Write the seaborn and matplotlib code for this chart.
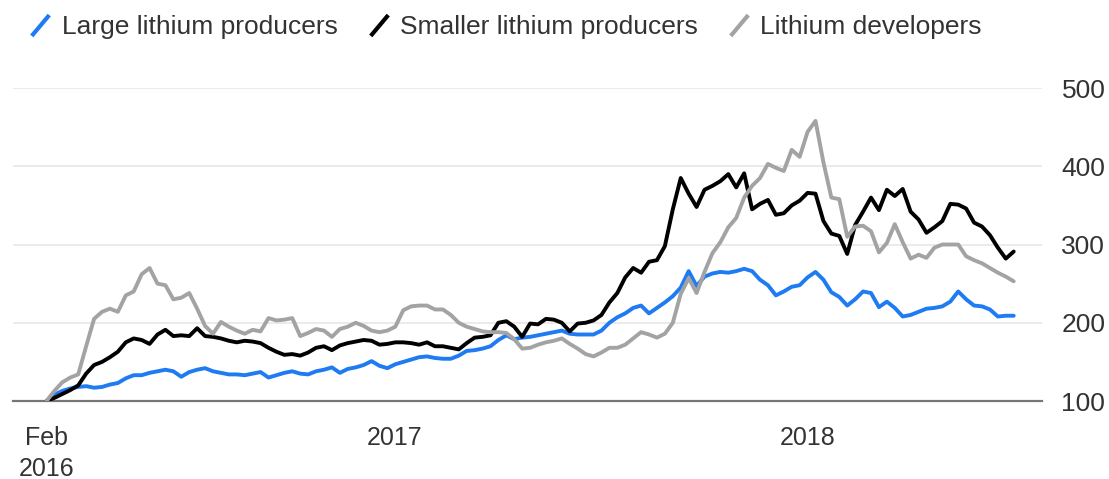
import pandas as pd
import matplotlib.pyplot as plt
from matplotlib.lines import Line2D
from matplotlib.path import Path
import seaborn as sns

# weekly index levels (rebased to 100 at start)
start_date = '2016-02-29'

large = [100, 108, 113, 116, 118, 119, 117, 118, 121, 123,
         129, 133, 133, 136, 138, 140, 138, 131, 137, 140,
         142, 138, 136, 134, 134, 133, 135, 137, 130, 133,
         136, 138, 135, 134, 138, 140, 143, 136, 141, 143,
         146, 151, 145, 142, 147, 150, 153, 156, 157, 155,
         154, 154, 158, 164, 165, 167, 170, 178, 184, 179,
         181, 182, 184, 186, 188, 190, 186, 185, 185, 185,
         190, 200, 207, 212, 219, 222, 212, 219, 226, 234,
         245, 266, 247, 259, 263, 265, 264, 266, 269, 266,
         255, 248, 235, 240, 246, 248, 258, 265, 255, 239,
         233, 222, 230, 240, 238, 220, 227, 219, 208, 210,
         214, 218, 219, 221, 227, 240, 230, 222, 221, 217,
         208, 209, 209]

smaller = [100, 104, 109, 114, 120, 135, 146, 150, 156, 163,
           175, 180, 178, 173, 185, 191, 183, 184, 183, 193,
           183, 182, 180, 177, 175, 177, 176, 174, 168, 163,
           159, 160, 158, 162, 168, 170, 165, 171, 174, 176,
           178, 177, 172, 173, 175, 175, 174, 172, 175, 170,
           170, 168, 166, 174, 181, 182, 184, 200, 202, 195,
           182, 199, 198, 205, 204, 200, 189, 199, 200, 203,
           210, 226, 238, 258, 270, 264, 278, 280, 298, 345,
           385, 365, 348, 370, 375, 381, 390, 373, 391, 345,
           352, 357, 338, 340, 350, 356, 366, 365, 330, 314,
           311, 288, 325, 342, 360, 344, 370, 362, 371, 342,
           332, 315, 322, 330, 352, 351, 346, 328, 323, 312,
           296, 282, 291]

developers = [100, 113, 124, 130, 134, 170, 205, 214, 218, 214,
              235, 240, 262, 270, 250, 248, 230, 232, 238, 218,
              196, 186, 201, 195, 190, 186, 191, 189, 206, 203,
              204, 206, 183, 187, 192, 190, 182, 192, 195, 200,
              196, 190, 188, 190, 195, 216, 221, 222, 222, 217,
              217, 210, 200, 195, 192, 189, 188, 188, 187, 179,
              167, 168, 172, 175, 177, 180, 173, 167, 160, 157,
              162, 168, 168, 172, 180, 188, 185, 181, 186, 200,
              237, 257, 238, 265, 289, 303, 322, 334, 360, 375,
              385, 403, 398, 394, 421, 412, 444, 458, 405, 360,
              358, 310, 323, 324, 317, 290, 302, 326, 303, 282,
              287, 283, 296, 300, 300, 300, 285, 280, 276, 270,
              264, 259, 253]

series_names = ['Large lithium producers', 'Smaller lithium producers',
                'Lithium developers']
tick_dates = ['2016-02-29', '2017-01-01', '2018-01-01']
tick_labels = ['Feb\n2016', '2017', '2018']
y_ticks = [100, 200, 300, 400, 500]

colors = ['#1f7bf2', '#000000', '#a3a3a3']
text_color = '#333333'

dates = pd.date_range(start_date, periods=len(large), freq='7D')
df = pd.DataFrame({'date': dates, 'Large lithium producers': large,
                   'Smaller lithium producers': smaller,
                   'Lithium developers': developers})
df = df.melt(id_vars='date', var_name='series', value_name='value')

sns.set_style('white')
plt.rcParams['font.family'] = ['Liberation Sans', 'DejaVu Sans']

fig = plt.figure(figsize=(11.09, 4.79), dpi=100)
ax = fig.add_axes([0.0113, 0.1628, 0.9283, 0.6534])

sns.lineplot(data=df, x='date', y='value', hue='series',
             hue_order=series_names, palette=colors, linewidth=2.8,
             legend=False, ax=ax)

ax.set_xlim(pd.Timestamp('2016-01-30'), pd.Timestamp('2018-07-27'))
ax.set_ylim(100, 500)
ax.set_xlabel('')
ax.set_ylabel('')

# axes cosmetics
for side in ['top', 'right', 'left']:
    ax.spines[side].set_visible(False)
ax.spines['bottom'].set_color('#777777')
ax.spines['bottom'].set_linewidth(1.6)
ax.spines['bottom'].set_zorder(1)

ax.set_yticks(y_ticks)
ax.yaxis.tick_right()
ax.yaxis.grid(True, color='#e8e8e8', linewidth=1.2)
ax.set_axisbelow(True)
ax.tick_params(axis='y', length=0, pad=14, labelsize=19, labelcolor=text_color)

ax.set_xticks(pd.to_datetime(tick_dates))
ax.set_xticklabels(tick_labels)
ax.tick_params(axis='x', direction='out', length=7, width=1, color='#555555',
               pad=11, labelsize=18, labelcolor=text_color)
for lbl in ax.get_xticklabels():
    lbl.set_linespacing(1.35)

# legend with slanted stroke markers
slash = Path([(-0.42, -0.5), (0.42, 0.5)], [Path.MOVETO, Path.LINETO])
handles = [Line2D([], [], linestyle='none', marker=slash, markersize=15,
                  markeredgewidth=3, color=c) for c in colors]
fig.legend(handles, series_names, loc='center left',
           bbox_to_anchor=(0.0258, 1 - 27 / 479), ncol=3, frameon=False,
           fontsize=19, handlelength=0.9, handletextpad=0.35,
           columnspacing=1.12, borderpad=0, borderaxespad=0,
           labelcolor=text_color)

plt.savefig('out.png', dpi=100)
